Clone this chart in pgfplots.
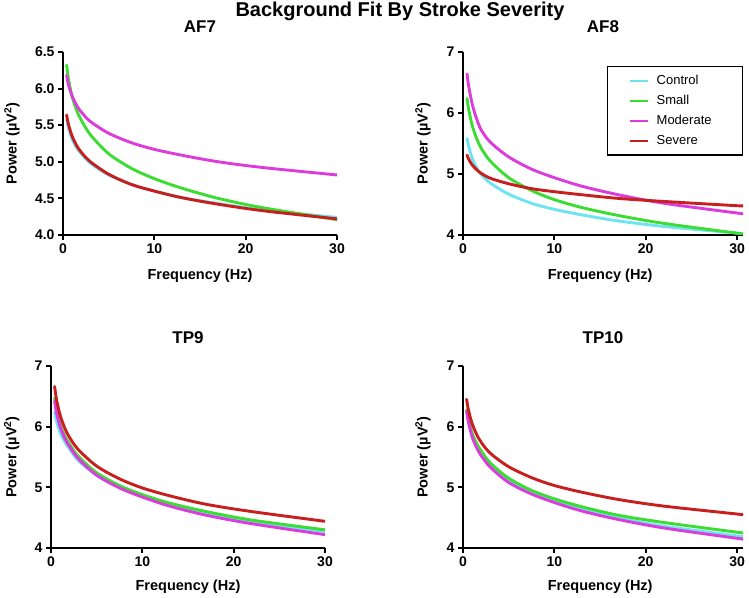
\documentclass[border=0pt]{standalone}
\usepackage{pgfplots}
\usepackage{pgfplotstable}
\pgfplotsset{compat=1.18}
\usepackage{fontspec}
\setmainfont{Liberation Sans}

\definecolor{colCtrl}{RGB}{110,228,240}
\definecolor{colSmall}{RGB}{60,220,50}
\definecolor{colMod}{RGB}{220,60,220}
\definecolor{colSev}{RGB}{200,30,30}

% columns: frequency, control, small, moderate, severe
\pgfplotstableread{
f    c    s    m    v
0.4  5.58 6.32 6.18 5.64
0.6  5.46 6.13 6.05 5.51
1    5.31 5.89 5.90 5.35
1.5  5.19 5.70 5.77 5.22
2    5.11 5.57 5.68 5.13
3    4.98 5.37 5.55 5.00
5    4.82 5.11 5.39 4.83
7.5  4.69 4.91 5.26 4.69
10   4.60 4.77 5.17 4.60
13   4.51 4.64 5.09 4.51
17   4.43 4.50 5.00 4.42
22   4.34 4.37 4.92 4.33
30   4.24 4.21 4.82 4.22
}\afseven

\pgfplotstableread{
f    c    s    m    v
0.45 5.58 6.24 6.64 5.31
0.6  5.47 6.08 6.46 5.25
1    5.26 5.80 6.15 5.15
1.5  5.10 5.58 5.90 5.07
2    4.99 5.42 5.72 5.01
3    4.85 5.21 5.52 4.93
5    4.67 4.94 5.28 4.84
7.5  4.52 4.73 5.08 4.76
10   4.42 4.58 4.94 4.71
13   4.33 4.45 4.80 4.66
17   4.23 4.32 4.66 4.60
22   4.14 4.19 4.52 4.55
30   4.03 4.03 4.36 4.48
30.5 4.02 4.02 4.35 4.48
}\afeight

\pgfplotstableread{
f    c    s    m    v
0.4  6.24 6.47 6.42 6.66
0.6  6.09 6.28 6.23 6.45
1    5.90 6.04 6.00 6.19
1.5  5.75 5.85 5.81 5.98
2    5.64 5.72 5.68 5.83
3    5.44 5.51 5.47 5.62
5    5.20 5.24 5.20 5.35
7.5  5.00 5.03 4.99 5.14
10   4.86 4.88 4.84 4.99
13   4.72 4.74 4.69 4.86
17   4.58 4.60 4.54 4.72
22   4.44 4.46 4.40 4.60
30   4.27 4.30 4.22 4.44
}\tpnine

\pgfplotstableread{
f    c    s    m    v
0.4  6.27 6.28 6.25 6.45
0.6  6.09 6.11 6.07 6.27
1    5.87 5.89 5.83 6.05
1.5  5.69 5.72 5.65 5.87
2    5.56 5.60 5.52 5.74
3    5.36 5.40 5.33 5.56
5    5.12 5.15 5.08 5.34
7.5  4.92 4.95 4.89 5.16
10   4.78 4.81 4.75 5.03
13   4.64 4.68 4.61 4.92
17   4.50 4.54 4.47 4.80
22   4.36 4.42 4.33 4.69
30   4.20 4.26 4.16 4.56
30.5 4.19 4.25 4.15 4.55
}\tpten

\pgfplotsset{
  panel/.style={
    scale only axis,
    width=274pt, height=183pt,
    xmin=0, xmax=30, ymin=4,
    axis x line*=bottom, axis y line*=left,
    axis line style={line width=2pt},
    every tick/.style={black, line width=2pt},
    tick align=outside, major tick length=5pt,
    xtick={0,10,20,30},
    /pgf/number format/assume math mode=true,
    tick label style={font=\fontsize{14}{14}\selectfont\bfseries},
    label style={font=\fontsize{14.5}{15}\selectfont\bfseries},
    every axis title shift=0pt,
    title style={font=\fontsize{17}{18}\selectfont\bfseries, anchor=center},
    xlabel={Frequency (Hz)},
    ylabel={Power (µV\textsuperscript{2})},
    xlabel style={anchor=center},
    ylabel style={anchor=center},
    every axis plot/.append style={line width=2.9pt, smooth, no marks, line cap=round},
  },
  cstyle/.style={colCtrl},
  sstyle/.style={colSmall},
  mstyle/.style={colMod},
  vstyle/.style={colSev},
}

\begin{document}
\begin{tikzpicture}
\path[use as bounding box] (0,0) rectangle (749pt,597pt);
\node[font=\fontsize{20}{22}\selectfont\bfseries] at (400pt,586pt) {Background Fit By Stroke Severity};

% AF7
\begin{axis}[panel, at={(63pt,362pt)}, anchor=south west,
  ymax=6.5, ytick={4,4.5,5,5.5,6,6.5},
  yticklabel style={/pgf/number format/.cd, fixed, fixed zerofill, precision=1},
  title={AF7}, title style={at={(axis description cs:0.5,1.137)}},
  xlabel style={at={(axis description cs:0.5,-0.224)}},
  ylabel style={at={(axis description cs:-0.186,0.5)}}]
\addplot[cstyle] table[x=f,y=c]{\afseven};
\addplot[sstyle] table[x=f,y=s]{\afseven};
\addplot[mstyle] table[x=f,y=m]{\afseven};
\addplot[vstyle] table[x=f,y=v]{\afseven};
\end{axis}

% AF8
\begin{axis}[panel, at={(463pt,362pt)}, anchor=south west,
  width=280pt, xmax=30.65,
  ymax=7, ytick={4,5,6,7},
  title={AF8}, title style={at={(axis description cs:0.5,1.137)}},
  xlabel style={at={(axis description cs:0.49,-0.224)}},
  ylabel style={at={(axis description cs:-0.143,0.5)}},
  legend cell align=left,
  legend image code/.code={\draw[#1, line width=2pt, line cap=butt] (0pt,0pt) -- (18pt,0pt);},
  legend style={at={(0.514,0.925)}, anchor=north west, draw=black, line width=1.5pt,
    font=\fontsize{13}{13}\selectfont, inner xsep=21pt, inner ysep=7pt,
    row sep=5pt, nodes={inner sep=2pt},
    /tikz/every odd column/.append style={column sep=6pt}}]
\addplot[cstyle] table[x=f,y=c]{\afeight};
\addplot[sstyle] table[x=f,y=s]{\afeight};
\addplot[mstyle] table[x=f,y=m]{\afeight};
\addplot[vstyle] table[x=f,y=v]{\afeight};
\legend{\makebox[63pt][l]{Control},\makebox[63pt][l]{Small},\makebox[63pt][l]{Moderate},\makebox[63pt][l]{Severe}}
\end{axis}

% TP9
\begin{axis}[panel, at={(51pt,49pt)}, anchor=south west,
  height=182pt,
  ymax=7, ytick={4,5,6,7},
  title={TP9}, title style={at={(axis description cs:0.5,1.154)}},
  xlabel style={at={(axis description cs:0.5,-0.214)}},
  ylabel style={at={(axis description cs:-0.143,0.5)}}]
\addplot[cstyle] table[x=f,y=c]{\tpnine};
\addplot[sstyle] table[x=f,y=s]{\tpnine};
\addplot[mstyle] table[x=f,y=m]{\tpnine};
\addplot[vstyle] table[x=f,y=v]{\tpnine};
\end{axis}

% TP10
\begin{axis}[panel, at={(463pt,49pt)}, anchor=south west,
  width=280pt, height=182pt, xmax=30.65,
  ymax=7, ytick={4,5,6,7},
  title={TP10}, title style={at={(axis description cs:0.5,1.154)}},
  xlabel style={at={(axis description cs:0.49,-0.214)}},
  ylabel style={at={(axis description cs:-0.143,0.5)}}]
\addplot[cstyle] table[x=f,y=c]{\tpten};
\addplot[sstyle] table[x=f,y=s]{\tpten};
\addplot[mstyle] table[x=f,y=m]{\tpten};
\addplot[vstyle] table[x=f,y=v]{\tpten};
\end{axis}
\end{tikzpicture}
\end{document}
